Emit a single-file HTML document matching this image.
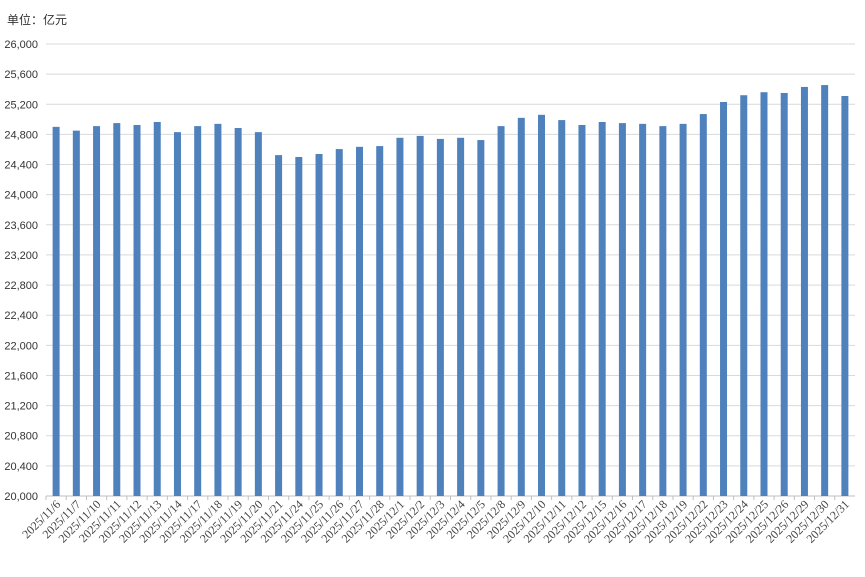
<!DOCTYPE html>
<html><head><meta charset="utf-8"><style>
body{margin:0;background:#fff;font-family:"Liberation Sans","Noto Sans CJK SC",sans-serif;}
svg text{font-family:"Liberation Sans","Noto Sans CJK SC",sans-serif;fill:#333;}
svg text.xl{font-family:"Liberation Serif",serif;fill:#444;}
</style></head><body>
<svg id="chart" width="865" height="572" xmlns="http://www.w3.org/2000/svg">
<text x="7" y="24" font-size="12">单位：亿元</text>
<g id="grid"></g><g id="bars"></g><g id="xlabels"></g>
</svg>
<script>
const categories=["2025/11/6","2025/11/7","2025/11/10","2025/11/11","2025/11/12","2025/11/13","2025/11/14","2025/11/17","2025/11/18","2025/11/19","2025/11/20","2025/11/21","2025/11/24","2025/11/25","2025/11/26","2025/11/27","2025/11/28","2025/12/1","2025/12/2","2025/12/3","2025/12/4","2025/12/5","2025/12/8","2025/12/9","2025/12/10","2025/12/11","2025/12/12","2025/12/15","2025/12/16","2025/12/17","2025/12/18","2025/12/19","2025/12/22","2025/12/23","2025/12/24","2025/12/25","2025/12/26","2025/12/29","2025/12/30","2025/12/31"];
const values=[24900,24850,24910,24950,24925,24965,24830,24910,24940,24885,24830,24525,24500,24540,24605,24635,24645,24755,24780,24740,24755,24725,24910,25020,25060,24990,24925,24965,24950,24940,24910,24940,25070,25230,25320,25360,25350,25430,25455,25310];
const yTicks=[20000,20400,20800,21200,21600,22000,22400,22800,23200,23600,24000,24400,24800,25200,25600,26000];
const NS="http://www.w3.org/2000/svg";
const L=46,R=855,T=44,B=496,yMin=20000,yMax=26000;
const y=v=>B-(v-yMin)/(yMax-yMin)*(B-T);
const step=(R-L)/categories.length;
const x=i=>L+step*(i+0.5);
const grid=document.getElementById('grid'),bars=document.getElementById('bars'),xl=document.getElementById('xlabels');
yTicks.forEach(t=>{
 const ln=document.createElementNS(NS,'line');
 
 
 ln.setAttribute('x1',L);ln.setAttribute('x2',R);ln.setAttribute('y1',y(t));ln.setAttribute('y2',y(t));
 ln.setAttribute('stroke',t===yMin?'#bfbfbf':'#d9d9d9');ln.setAttribute('stroke-width','1');
 grid.appendChild(ln);
 const tx=document.createElementNS(NS,'text');
 
 
 tx.setAttribute('x',38);tx.setAttribute('y',y(t)+4);tx.setAttribute('text-anchor','end');tx.setAttribute('font-size','11');
 tx.textContent=t.toLocaleString('en-US');
 grid.appendChild(tx);
});
categories.forEach((c,i)=>{
 const r=document.createElementNS(NS,'rect');
 
 
 const w=7;
 r.setAttribute('x',x(i)-w/2);r.setAttribute('width',w);
 r.setAttribute('y',y(values[i]));r.setAttribute('height',B-y(values[i]));
 r.setAttribute('fill','#4f81bd');
 bars.appendChild(r);
 const tk=document.createElementNS(NS,'line');
 
 
 const tx0=L+step*i;
 tk.setAttribute('x1',tx0);tk.setAttribute('x2',tx0);tk.setAttribute('y1',B);tk.setAttribute('y2',B+4);tk.setAttribute('stroke','#bfbfbf');
 bars.appendChild(tk);
 const t=document.createElementNS(NS,'text');
 
 
 t.setAttribute('class','xl');
 t.setAttribute('font-size','12');t.setAttribute('text-anchor','end');
 t.setAttribute('transform',`translate(${x(i)+5},${B+9}) rotate(-45)`);
 t.textContent=c;
 xl.appendChild(t);
});
</script>
</body></html>
